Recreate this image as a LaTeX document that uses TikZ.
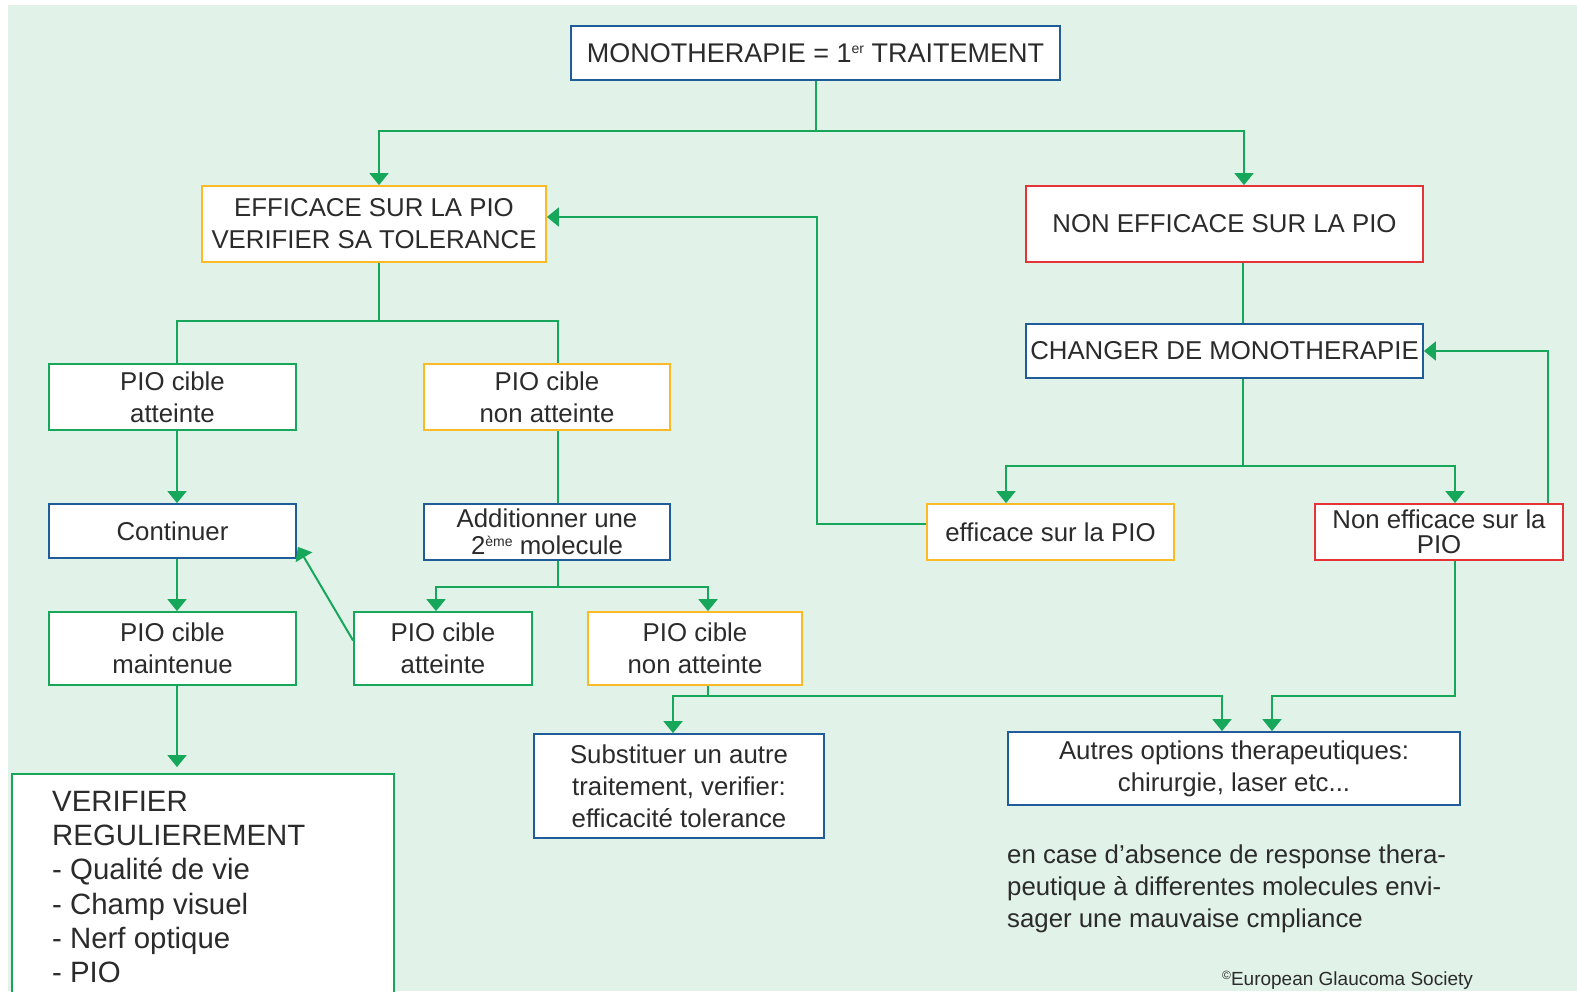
\documentclass[tikz,border=0pt]{standalone}
\usepackage{fontspec}
\setmainfont{Liberation Sans}
\usetikzlibrary{arrows.meta}
\definecolor{bgc}{HTML}{E1F2E8}
\definecolor{greenc}{HTML}{17A75B}
\definecolor{bluec}{HTML}{1F5C99}
\definecolor{orangec}{HTML}{FBBA26}
\definecolor{redc}{HTML}{E63338}
\definecolor{txt}{HTML}{2B2B2B}
\newcommand{\smallsup}[1]{\raisebox{0.32em}{\fontsize{14}{14}\selectfont #1}}
\begin{document}
\begin{tikzpicture}[x=1pt,y=-1pt,
  box/.style={draw, fill=white, line width=1.8pt, inner sep=0pt, align=center,
    font=\fontsize{25.8}{32}\selectfont, text=txt},
  bbox/.style={box, draw=bluec},
  obox/.style={box, draw=orangec},
  rbox/.style={box, draw=redc},
  gbox/.style={box, draw=greenc},
  conn/.style={draw=greenc, line width=2pt},
  arr/.style={conn, -{Triangle[width=19pt,length=12pt]}},
  plain/.style={inner sep=0pt, text=txt, align=left},
]
\useasboundingbox (0,0) rectangle (1577,991);
\fill[bgc] (8,5) rectangle (1577,991);

% nodes
\node[bbox, minimum width=489pt, minimum height=54pt, font=\fontsize{27}{32}\selectfont] (top) at (815.5,53) {MONOTHERAPIE = 1\smallsup{er} TRAITEMENT};
\node[obox, minimum width=344pt, minimum height=76pt] (eff) at (374,224) {EFFICACE SUR LA PIO\\VERIFIER SA TOLERANCE};
\node[rbox, minimum width=397pt, minimum height=76pt] (neff) at (1224.5,224) {NON EFFICACE SUR LA PIO};
\node[gbox, minimum width=247pt, minimum height=66pt] (pioa1) at (172.5,397) {PIO cible\\atteinte};
\node[obox, minimum width=246pt, minimum height=66pt] (pion1) at (547,397) {PIO cible\\non atteinte};
\node[bbox, minimum width=397pt, minimum height=54pt] (chg) at (1224.5,351) {CHANGER DE MONOTHERAPIE};
\node[bbox, minimum width=247pt, minimum height=54pt] (cont) at (172.5,531) {Continuer};
\node[bbox, minimum width=246pt, minimum height=56pt, font=\fontsize{25.8}{27}\selectfont] (add) at (547,532) {Additionner une\\2\smallsup{ème} molecule};
\node[obox, minimum width=247pt, minimum height=56pt] (effpio) at (1050.5,532) {efficace sur la PIO};
\node[rbox, minimum width=248pt, minimum height=56pt, font=\fontsize{25.8}{25}\selectfont] (noneff) at (1439,532) {Non efficace sur la\\PIO};
\node[gbox, minimum width=247pt, minimum height=73pt] (piom) at (172.5,648.5) {PIO cible\\maintenue};
\node[gbox, minimum width=178pt, minimum height=73pt] (pioa2) at (443,648.5) {PIO cible\\atteinte};
\node[obox, minimum width=214pt, minimum height=73pt] (pion2) at (695,648.5) {PIO cible\\non atteinte};
\node[bbox, minimum width=290pt, minimum height=104pt] (subst) at (679,786) {Substituer un autre\\traitement, verifier:\\efficacité tolerance};
\node[bbox, minimum width=452pt, minimum height=73pt] (autres) at (1234,768.5) {Autres options therapeutiques:\\chirurgie, laser etc...};
\node[gbox, minimum width=382pt, minimum height=240pt] (verif) at (203,894) {};
\node[plain, anchor=north west, font=\fontsize{29.4}{34.2}\selectfont] (veriftxt) at (52,791) {VERIFIER\\REGULIEREMENT\\- Qualité de vie\\- Champ visuel\\- Nerf optique\\- PIO};
\node[plain, anchor=north west, font=\fontsize{25.8}{32}\selectfont] (note) at (1007,845) {en case d'absence de response thera-\\peutique à differentes molecules envi-\\sager une mauvaise cmpliance};
\node[plain, anchor=base west, font=\fontsize{19}{20}\selectfont] (copy) at (1222,985) {\raisebox{0.3em}{\fontsize{12}{12}\selectfont ©}European Glaucoma Society};

% connectors
\draw[arr] (top.south) -- ++(0,50) -| ([xshift=5pt]eff.north);
\draw[arr] (top.south) -- ++(0,50) -| ([xshift=19.5pt]neff.north);
\draw[conn] ([xshift=5pt]eff.south) -- ++(0,58) -| ([xshift=4.5pt]pioa1.north);
\draw[conn] ([xshift=5pt]eff.south) -- ++(0,58) -| ([xshift=11pt]pion1.north);
\draw[conn] ([xshift=18.5pt]neff.south) -- ([xshift=18.5pt]chg.north);
\draw[arr] ([xshift=18.5pt]chg.south) -- ++(0,87) -| ([xshift=-44.5pt]effpio.north);
\draw[arr] ([xshift=18.5pt]chg.south) -- ++(0,87) -| ([xshift=16pt]noneff.north);
\draw[arr] ([xshift=109pt]noneff.north) |- (chg.east);
\draw[arr] ([yshift=8pt]effpio.west) -- ++(-109,0) |- ([yshift=7pt]eff.east);
\draw[arr] ([xshift=4.5pt]pioa1.south) -- ([xshift=4.5pt]cont.north);
\draw[arr] ([xshift=4.5pt]cont.south) -- ([xshift=4.5pt]piom.north);
\draw[arr, shorten >=6pt] ([xshift=4.5pt]piom.south) -- ([xshift=-26pt]verif.north);
\draw[conn] ([xshift=11pt]pion1.south) -- ([xshift=11pt]add.north);
\draw[arr] ([xshift=11pt]add.south) -- ++(0,26) -| ([xshift=-7pt]pioa2.north);
\draw[arr] ([xshift=11pt]add.south) -- ++(0,26) -| ([xshift=13pt]pion2.north);
\draw[arr] ([yshift=8pt]pioa2.west) -- ([xshift=1pt,yshift=12pt]cont.south east);
\draw[arr] ([xshift=13pt]pion2.south) -- ++(0,10) -| ([xshift=-6pt]subst.north);
\draw[arr] ([xshift=13pt]pion2.south) -- ++(0,10) -| ([xshift=-12pt]autres.north);
\draw[arr] ([xshift=16pt]noneff.south) -- ++(0,135) -| ([xshift=38pt]autres.north);
\end{tikzpicture}
\end{document}
